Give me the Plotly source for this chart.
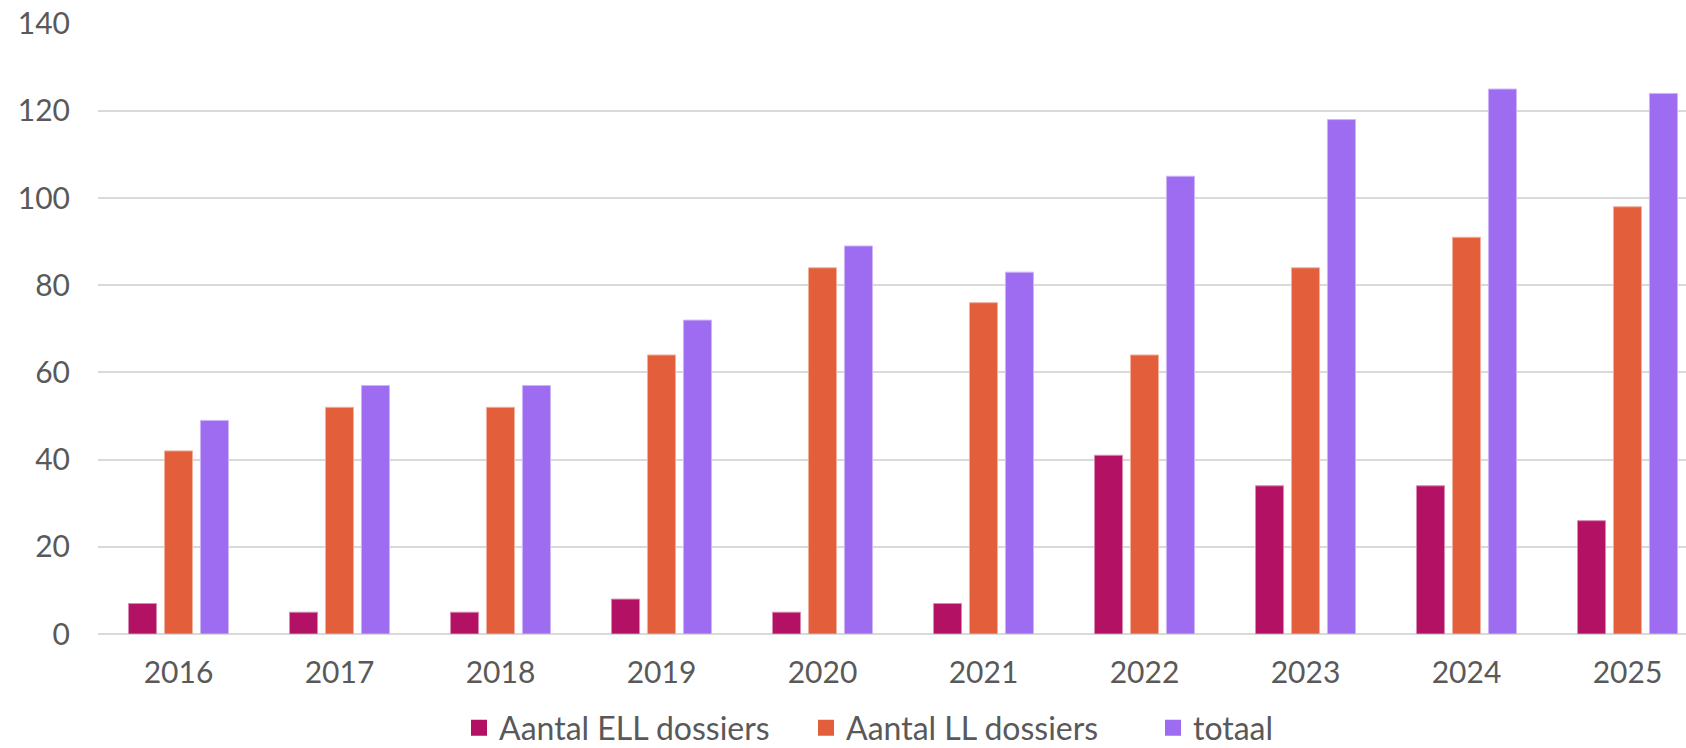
import plotly.graph_objects as go

years = ["2016", "2017", "2018", "2019", "2020", "2021", "2022", "2023", "2024", "2025"]
ell = [7, 5, 5, 8, 5, 7, 41, 34, 34, 26]
ll = [42, 52, 52, 64, 84, 76, 64, 84, 91, 98]
totaal = [49, 57, 57, 72, 89, 83, 105, 118, 125, 124]
y_ticks = [0, 20, 40, 60, 80, 100, 120, 140]

names = ["Aantal ELL dossiers", "Aantal LL dossiers", "totaal"]
colors = ["#B31264", "#E35F3C", "#9D6CF0"]
edge = ["#D98AB2", "#F1AF9D", "#CEB5F7"]

W, H = 1686, 748
ml, mr, mt, mb = 98, 0, 23, 114
plot_w = W - ml - mr
plot_h = H - mt - mb
cat_w = 161.0
n = len(years)
x_hi = -0.5 + plot_w / cat_w

fig = go.Figure()
for name, vals, c, e in zip(names, [ell, ll, totaal], colors, edge):
    fig.add_trace(go.Bar(
        x=list(range(n)), y=vals, name=name, showlegend=False,
        marker=dict(color=c, line=dict(color=e, width=1)),
    ))
# legend entries with larger square swatches
for name, c in zip(names, colors):
    fig.add_trace(go.Scatter(
        x=[None], y=[None], mode="markers", name=name,
        marker=dict(symbol="square", size=19, color=c),
    ))

font_fam = "Lato, 'Noto Sans', sans-serif"
fig.update_layout(
    width=W, height=H,
    margin=dict(l=ml, r=mr, t=mt, b=mb, pad=0, autoexpand=False),
    paper_bgcolor="white", plot_bgcolor="white",
    barmode="group", bargap=0.33, bargroupgap=0.22,
    font=dict(family=font_fam, size=30, color="#595959"),
    showlegend=True,
    legend=dict(
        orientation="h", x=(459 - ml) / plot_w, xanchor="left",
        y=(H - mb - 728) / plot_h, yanchor="middle",
        font=dict(size=32, color="#595959"),
        entrywidth=302, entrywidthmode="pixels",
        traceorder="normal", bgcolor="rgba(0,0,0,0)",
    ),
)
fig.update_xaxes(
    range=[-0.5, x_hi], tickmode="array", tickvals=list(range(n)), ticktext=years,
    showgrid=False, zeroline=False, showline=False, ticks="", automargin=False,
    ticklabelstandoff=18,
    tickfont=dict(size=30, color="#595959"),
)
fig.update_yaxes(
    range=[0, 140.15], tickmode="array", tickvals=y_ticks,
    showgrid=True, gridcolor="#D9D9D9", gridwidth=2,
    zeroline=True, zerolinecolor="#D9D9D9", zerolinewidth=2,
    showline=False, ticks="", ticklabelstandoff=27, automargin=False,
    tickfont=dict(size=30, color="#595959"),
)
fig.write_html(
    "out.html",
    config={"displayModeBar": False},
    post_script="document.body.style.margin='0px';document.body.style.overflow='hidden';",
)
